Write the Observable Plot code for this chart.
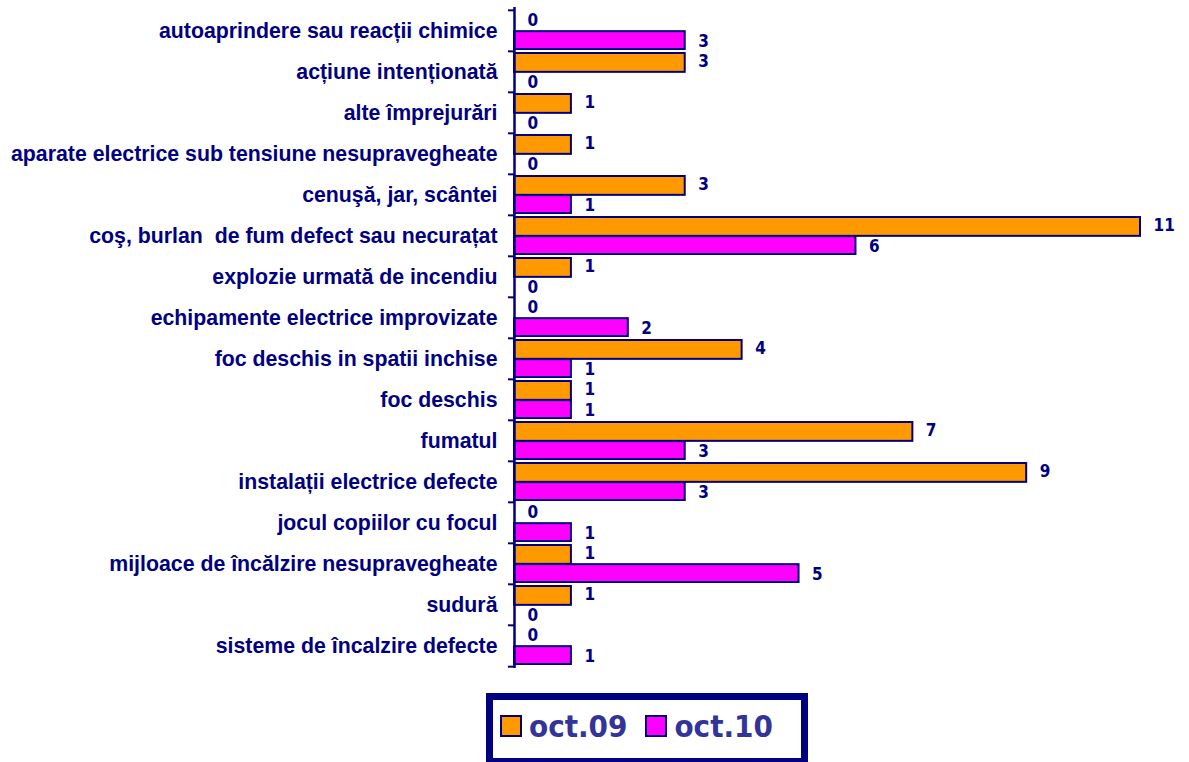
<!DOCTYPE html>
<html>
<head>
<meta charset="utf-8">
<script src="https://cdn.jsdelivr.net/npm/d3@7"></script>
<script src="https://cdn.jsdelivr.net/npm/@observablehq/plot@0.6"></script>
<style>
  html, body { margin: 0; padding: 0; background: #fff; }
  body { width: 1189px; height: 762px; position: relative; overflow: hidden; }
  #chart { position: absolute; left: 0; top: 0; }
  #chart g[aria-label="y-axis tick label"] text { font-family: "Liberation Sans", Arial, sans-serif; font-weight: bold; font-size: 21.3px; }
  #legend {
    position: absolute; left: 486px; top: 693px; width: 322px; height: 72px;
    box-sizing: border-box; border: 7px solid #000080; background: #fff;
    font-family: "DejaVu Sans Condensed", "DejaVu Sans", sans-serif; font-weight: bold; font-size: 31px; color: #333399;
    display: flex; align-items: center; padding-left: 7px; padding-bottom: 6px;
  }
  .sw { display: inline-block; width: 18px; height: 18px; border: 2px solid #000080; margin-right: 7px; }
  .item { display: flex; align-items: center; margin-right: 18px; }
</style>
</head>
<body>
<div id="chart"></div>
<div id="legend"></div>
<script>
const categories = [
  "autoaprindere sau reacții chimice",
  "acțiune intenționată",
  "alte împrejurări",
  "aparate electrice sub tensiune nesupravegheate",
  "cenuşă, jar, scântei",
  "coş, burlan  de fum defect sau necurațat",
  "explozie urmată de incendiu",
  "echipamente electrice improvizate",
  "foc deschis in spatii inchise",
  "foc deschis",
  "fumatul",
  "instalații electrice defecte",
  "jocul copiilor cu focul",
  "mijloace de încălzire nesupravegheate",
  "sudură",
  "sisteme de încalzire defecte"
];
const seriesNames = ["oct.09", "oct.10"];
const oct09 = [0, 3, 1, 1, 3, 11, 1, 0, 4, 1, 7, 9, 0, 1, 1, 0];
const oct10 = [3, 0, 0, 0, 1, 6, 0, 2, 1, 1, 3, 3, 1, 5, 0, 1];
const colors = ["#FF9900", "#FF00FF"];

const W = 1189, H = 680, mt = 7, mb = 12, ml = 514, mr = 49;
const bw = (H - mt - mb) / categories.length;
const pxPerUnit = (W - ml - mr) / 11;

const d09 = categories.map((c, i) => ({cat: c, v: oct09[i]}));
const d10 = categories.map((c, i) => ({cat: c, v: oct10[i]}));
const navy = "#000080";
const labelFont = {fill: navy, fontSize: 17, fontWeight: "bold", fontFamily: "'DejaVu Sans Condensed', 'DejaVu Sans', sans-serif"};

const chart = Plot.plot({
  width: W, height: H,
  marginLeft: ml, marginRight: mr, marginTop: mt, marginBottom: mb,
  style: {color: navy, background: "transparent", overflow: "visible", fontFamily: "'Liberation Sans', Arial, sans-serif"},
  x: {domain: [0, 11], axis: null},
  y: {domain: categories, padding: 0, label: null},
  marks: [
    Plot.barX(d09, {y: "cat", x: "v", fill: colors[0], stroke: navy, strokeWidth: 2,
      insetTop: 2, insetBottom: bw / 2 - 0.5}),
    Plot.barX(d10, {y: "cat", x: "v", fill: colors[1], stroke: navy, strokeWidth: 2,
      insetTop: bw / 2 + 0.5, insetBottom: 2}),
    Plot.ruleX([0], {stroke: navy, strokeWidth: 2.5}),
    Plot.ruleY(categories, {y: d => d, x1: -6 / pxPerUnit, x2: 0, dy: -bw / 2, stroke: navy, strokeWidth: 2}),
    Plot.ruleY([categories[categories.length - 1]], {y: d => d, x1: -6 / pxPerUnit, x2: 0, dy: bw / 2, stroke: navy, strokeWidth: 2}),
    Plot.axisY({tickSize: 0, tickPadding: 17, fill: navy, label: null}),
    Plot.text(d09, {y: "cat", x: "v", text: d => String(d.v), dx: 13, dy: -bw / 4, textAnchor: "start", ...labelFont}),
    Plot.text(d10, {y: "cat", x: "v", text: d => String(d.v), dx: 13, dy: bw / 4, textAnchor: "start", ...labelFont})
  ]
});
document.getElementById("chart").appendChild(chart);

const legend = document.getElementById("legend");
seriesNames.forEach((s, i) => {
  const item = document.createElement("div");
  item.className = "item";
  const sw = document.createElement("span");
  sw.className = "sw";
  sw.style.background = colors[i];
  const t = document.createElement("span");
  t.textContent = s;
  item.appendChild(sw);
  item.appendChild(t);
  legend.appendChild(item);
});
</script>
</body>
</html>
